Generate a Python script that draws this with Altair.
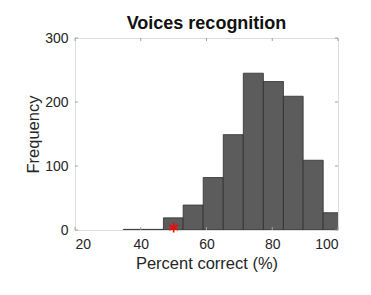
import altair as alt
import pandas as pd

# Histogram bins (percent correct) and counts
bin_start = [34.7, 40.8, 46.9, 52.9, 59.0, 65.1, 71.2, 77.3, 83.4, 89.4, 95.5]
bin_end = [40.8, 46.9, 52.9, 59.0, 65.1, 71.2, 77.3, 83.4, 89.4, 95.5, 101.6]
counts = [1, 1, 19, 39, 82, 149, 245, 232, 209, 109, 27]

# Marker (chance / individual score)
marker_x = [50]
marker_y = [4]

xticks = [20, 40, 60, 80, 100]
yticks = [0, 100, 200, 300]

W, H = 263, 192
FONT = "Liberation Sans"
AX = "#a0a0a0"

bars_df = pd.DataFrame({"start": bin_start, "end": bin_end, "count": counts})
mark_df = pd.DataFrame({"x": marker_x, "y": marker_y})
xt_df = pd.DataFrame({"t": xticks})
yt_df = pd.DataFrame({"t": yticks})

xscale = alt.Scale(domain=[20, 100], nice=False, zero=False, padding=0)
yscale = alt.Scale(domain=[0, 300], nice=False, padding=0)

xaxis = alt.Axis(values=xticks, ticks=False, domain=False, grid=False,
                 labelFontSize=14, labelFont=FONT, labelColor="#262626",
                 labelPadding=7, title="Percent correct (%)",
                 titleFontSize=16.5, titleFont=FONT, titleFontWeight="normal",
                 titleColor="#262626", titlePadding=4)
yaxis = alt.Axis(values=yticks, ticks=False, domain=False, grid=False,
                 labelFontSize=14, labelFont=FONT, labelColor="#262626",
                 labelPadding=7, title="Frequency",
                 titleFontSize=16.5, titleFont=FONT, titleFontWeight="normal",
                 titleColor="#262626", titlePadding=3)

bars = alt.Chart(bars_df).mark_bar(
    color="#5c5c5c", stroke="#2e2e2e", strokeWidth=0.8, clip=True
).encode(
    x=alt.X("start:Q", scale=xscale, axis=xaxis),
    x2="end:Q",
    y=alt.Y("count:Q", scale=yscale, axis=yaxis),
    y2=alt.datum(0),
)

ast_path = "M0,-1L0,1M-0.87,-0.5L0.87,0.5M-0.87,0.5L0.87,-0.5"
marker = alt.Chart(mark_df).mark_point(
    shape=ast_path, filled=False, color="#ff0000", strokeWidth=1.6, size=100, opacity=1
).encode(x="x:Q", y="y:Q")

tick_style = dict(color=AX, strokeWidth=1)
bt = alt.Chart(xt_df).mark_rule(**tick_style).encode(
    x="t:Q", y=alt.value(H), y2=alt.value(H - 3))
tt = alt.Chart(xt_df).mark_rule(**tick_style).encode(
    x="t:Q", y=alt.value(0), y2=alt.value(3))
lt = alt.Chart(yt_df).mark_rule(**tick_style).encode(
    y="t:Q", x=alt.value(0), x2=alt.value(3))
rt = alt.Chart(yt_df).mark_rule(**tick_style).encode(
    y="t:Q", x=alt.value(W), x2=alt.value(W - 3))

chart = alt.layer(bars, bt, tt, lt, rt, marker).properties(
    width=W, height=H,
    title=alt.TitleParams("Voices recognition", fontSize=18, font=FONT,
                          fontWeight="bold", color="#111111",
                          baseline="alphabetic", offset=-16),
    autosize=alt.AutoSizeParams(type="none"),
    padding={"left": 75, "top": 38, "right": 33, "bottom": 65},
).configure_view(stroke=AX, strokeWidth=1).configure(background="white")

chart.save("out.html", embed_options={"renderer": "svg", "actions": False})
